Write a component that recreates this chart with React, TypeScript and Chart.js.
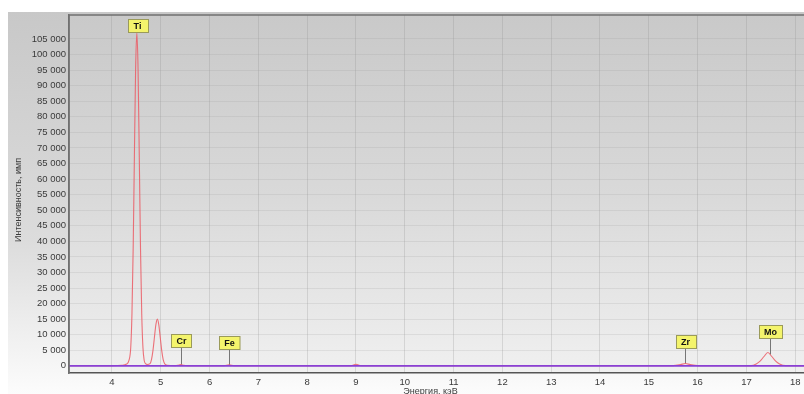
import React, { useEffect, useRef } from "react";
import { Chart, registerables } from "chart.js";

Chart.register(...registerables);

// Measured X-ray fluorescence spectrum: energy (keV) and intensity (counts)
const ENERGY_KEV = [
  3.12, 3.5, 4.0, 4.2, 4.3, 4.35, 4.385, 4.41, 4.435, 4.46, 4.485, 4.51, 4.535, 4.56, 4.585,
  4.61, 4.635, 4.66, 4.69, 4.72, 4.78, 4.81, 4.84, 4.87, 4.9, 4.93, 4.96, 4.99, 5.02, 5.05,
  5.08, 5.13, 5.3, 5.35, 5.41, 5.47, 5.55, 6.3, 6.4, 6.5, 8.9, 9.0, 9.1, 15.5, 15.65, 15.75,
  15.85, 16.0, 17.1, 17.2, 17.28, 17.36, 17.44, 17.52, 17.6, 17.68, 17.8, 18.2,
];
const COUNTS = [
  60, 60, 80, 180, 600, 1800, 5900, 16800, 37800, 67400, 95400, 107000, 95400, 67400, 37800,
  16800, 5900, 1800, 700, 450, 700, 2000, 4900, 9100, 13200, 15000, 13200, 9100, 4900, 2000,
  700, 200, 80, 180, 400, 180, 80, 80, 330, 80, 80, 500, 80, 80, 400, 750,
  400, 80, 80, 600, 1500, 3000, 4300, 3000, 1500, 600, 80, 60,
];

// Fitted background level
const BACKGROUND_ENERGY = [3.12, 18.2];
const BACKGROUND_COUNTS = [0, 0];

// Axis ticks
const X_TICKS = [4, 5, 6, 7, 8, 9, 10, 11, 12, 13, 14, 15, 16, 17, 18];
const Y_TICKS = [
  0, 5000, 10000, 15000, 20000, 25000, 30000, 35000, 40000, 45000, 50000, 55000, 60000,
  65000, 70000, 75000, 80000, 85000, 90000, 95000, 100000, 105000,
];

// Element line markers
const PEAK_NAMES = ["Ti", "Cr", "Fe", "Zr", "Mo"];
const PEAK_ENERGY = [4.51, 5.41, 6.4, 15.75, 17.48];
const PEAK_LABEL_LEVEL = [107200, 6100, 5500, 5800, 9000];

const X_TITLE = "Энергия, кэВ";
const Y_TITLE = "Интенсивность, имп";

const FONT = "'Liberation Sans', Arial, sans-serif";

const formatThousands = (v: number) =>
  String(Math.round(v)).replace(/\B(?=(\d{3})+(?!\d))/g, " ");

const markerX = (chart: any, i: number) =>
  Math.round(chart.scales.x.getPixelForValue(PEAK_ENERGY[i])) + 0.5;

// spectrum level under a marker, read along the measured polyline
const spectrumAt = (e: number) => {
  for (let k = 1; k < ENERGY_KEV.length; k++) {
    if (e <= ENERGY_KEV[k]) {
      const t = (e - ENERGY_KEV[k - 1]) / (ENERGY_KEV[k] - ENERGY_KEV[k - 1]);
      return COUNTS[k - 1] + t * (COUNTS[k] - COUNTS[k - 1]);
    }
  }
  return 0;
};

const backdropPlugin = {
  id: "backdrop",
  beforeDraw(chart: any) {
    const { ctx, width, height, chartArea } = chart;
    ctx.save();
    ctx.fillStyle = "#ffffff";
    ctx.fillRect(0, 0, width, height);
    const outer = ctx.createLinearGradient(0, 12, 0, height);
    outer.addColorStop(0, "#c8c8c8");
    outer.addColorStop(0.6, "#dcdcdc");
    outer.addColorStop(0.85, "#f0f0f0");
    outer.addColorStop(1, "#fcfcfc");
    ctx.fillStyle = outer;
    ctx.fillRect(8, 12, width - 8, height - 12);
    const inner = ctx.createLinearGradient(0, chartArea.top, 0, chartArea.bottom);
    inner.addColorStop(0, "#c9c9c9");
    inner.addColorStop(0.5, "#d9d9d9");
    inner.addColorStop(1, "#f0f0f0");
    ctx.fillStyle = inner;
    ctx.fillRect(chartArea.left, chartArea.top, chartArea.right - chartArea.left, chartArea.bottom - chartArea.top);
    ctx.restore();
  },
  beforeDatasetsDraw(chart: any) {
    // marker stems run from the label down to the spectrum
    const { ctx, scales } = chart;
    const ys = scales.y;
    ctx.save();
    ctx.strokeStyle = "#767676";
    ctx.lineWidth = 1;
    PEAK_NAMES.forEach((_, i) => {
      const px = markerX(chart, i);
      const top = ys.getPixelForValue(PEAK_LABEL_LEVEL[i]);
      const bottom = ys.getPixelForValue(spectrumAt(PEAK_ENERGY[i]));
      if (bottom > top) {
        ctx.beginPath();
        ctx.moveTo(px, top);
        ctx.lineTo(px, bottom);
        ctx.stroke();
      }
    });
    ctx.restore();
  },
  afterDraw(chart: any) {
    const { ctx, chartArea, scales, height } = chart;
    const ys = scales.y;
    ctx.save();
    // frame
    ctx.strokeStyle = "#707070";
    ctx.lineWidth = 1.5;
    ctx.beginPath();
    ctx.moveTo(chartArea.left, chartArea.bottom);
    ctx.lineTo(chartArea.left, chartArea.top);
    ctx.lineTo(chartArea.right, chartArea.top);
    ctx.stroke();

    // element label boxes
    ctx.font = `bold 9px ${FONT}`;
    ctx.textAlign = "center";
    ctx.textBaseline = "middle";
    PEAK_NAMES.forEach((name, i) => {
      const px = markerX(chart, i);
      const boxBottom = ys.getPixelForValue(PEAK_LABEL_LEVEL[i]);
      const w = Math.max(20, ctx.measureText(name).width + 10);
      const h = 13;
      const bx = Math.round(px - w / 2) + 0.5;
      const by = Math.round(boxBottom - h) + 0.5;
      ctx.fillStyle = "#f4f46c";
      ctx.fillRect(bx, by, w, h);
      ctx.strokeStyle = "#9a9a5a";
      ctx.lineWidth = 1;
      ctx.strokeRect(bx, by, w, h);
      ctx.fillStyle = "#111111";
      ctx.fillText(name, px, by + h / 2 + 0.5);
    });

    // axis titles
    ctx.fillStyle = "#3a3a3a";
    ctx.font = `9px ${FONT}`;
    ctx.textAlign = "center";
    ctx.textBaseline = "middle";
    ctx.fillText(X_TITLE, (chartArea.left + chartArea.right) / 2 - 6, height - 2);
    ctx.translate(19, 200);
    ctx.rotate(-Math.PI / 2);
    ctx.fillText(Y_TITLE, 0, 0);
    ctx.restore();
  },
};

export default function App() {
  const canvasRef = useRef<HTMLCanvasElement | null>(null);

  useEffect(() => {
    const canvas = canvasRef.current;
    if (!canvas) return;
    const chart = new Chart(canvas, {
      type: "line",
      data: {
        datasets: [
          {
            label: "background",
            data: BACKGROUND_ENERGY.map((x, i) => ({ x, y: BACKGROUND_COUNTS[i] })),
            borderColor: "#8a40d4",
            borderWidth: 1.8,
            pointRadius: 0,
            order: 0,
          },
          {
            label: "spectrum",
            data: ENERGY_KEV.map((x, i) => ({ x, y: COUNTS[i] })),
            borderColor: "rgba(235, 90, 100, 0.85)",
            borderWidth: 1.1,
            pointRadius: 0,
            cubicInterpolationMode: "monotone",
            order: 1,
          },
        ],
      },
      options: {
        animation: false,
        responsive: false,
        events: [],
        layout: { padding: { left: 0, top: 15, right: 0, bottom: 0 } },
        plugins: { legend: { display: false }, tooltip: { enabled: false } },
        scales: {
          x: {
            type: "linear",
            min: 3.12,
            max: 18.18,
            afterFit: (axis: any) => {
              axis.height = 21;
              axis.paddingRight = 0;
              axis.paddingLeft = 0;
            },
            afterBuildTicks: (axis: any) => {
              axis.ticks = X_TICKS.map((value) => ({ value }));
            },
            ticks: {
              color: "#3a3a3a",
              font: { family: FONT, size: 9.5 },
              padding: 4,
              maxRotation: 0,
              autoSkip: false,
              callback: (v: any) => String(v),
            },
            grid: {
              color: "rgba(140, 140, 140, 0.25)",
              lineWidth: 1,
              drawTicks: false,
            },
            border: { color: "#555555", width: 1.5 },
          },
          y: {
            type: "linear",
            min: -2300,
            max: 112700,
            afterFit: (axis: any) => {
              axis.width = 69;
            },
            afterBuildTicks: (axis: any) => {
              axis.ticks = Y_TICKS.map((value) => ({ value }));
            },
            ticks: {
              color: "#3a3a3a",
              font: { family: FONT, size: 9.5 },
              padding: 3,
              autoSkip: false,
              callback: (v: any) => formatThousands(Number(v)),
            },
            grid: {
              color: "rgba(150, 150, 150, 0.18)",
              lineWidth: 1,
              drawTicks: false,
            },
            border: { color: "#707070", width: 1.5 },
          },
        },
      },
      plugins: [backdropPlugin],
    } as any);
    return () => chart.destroy();
  }, []);

  return (
    <div style={{ position: "absolute", left: 0, top: 0, width: 804, height: 394, overflow: "hidden" }}>
      <canvas ref={canvasRef} width={804} height={394} style={{ display: "block", width: 804, height: 394 }} />
    </div>
  );
}
